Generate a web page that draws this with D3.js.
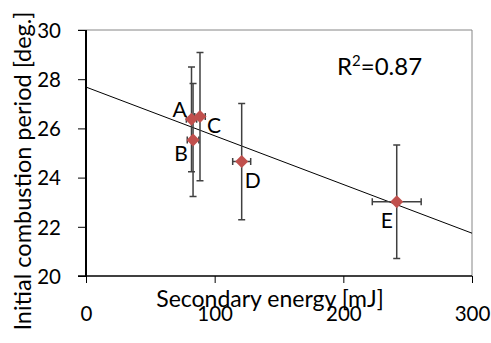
<!DOCTYPE html>
<html>
<head>
<meta charset="utf-8">
<script src="https://cdn.jsdelivr.net/npm/d3@7"></script>
<style>
  body { margin: 0; background: #fff; }
  text { font-family: Lato, "Open Sans", sans-serif; fill: #000; }
</style>
</head>
<body>
<script>
var names = ["A", "B", "C", "D", "E"];
var energy = [82, 83.2, 88.6, 121, 241.5];
var period = [26.37, 25.53, 26.48, 24.65, 23.02];
var energyErr = [4, 4.5, 4.1, 7, 19];
var periodErr = [2.13, 2.3, 2.61, 2.36, 2.31];
var xTicks = [0, 100, 200, 300];
var yTicks = [20, 22, 24, 26, 28, 30];
var trendIntercept = 27.68, trendSlope = -0.0198;
var r2 = "0.87";

var width = 491, height = 343;
var pLeft = 86, pRight = 472, pTop = 30, pBottom = 276;

// label offsets (px) from each point
var labelPos = { A: [-12, -10], B: [-12, 14], C: [14, 9], D: [11, 19], E: [-10, 19] };

var x = d3.scaleLinear().domain([0, 300]).range([pLeft, pRight]);
var y = d3.scaleLinear().domain([20, 30]).range([pBottom, pTop]);

var svg = d3.select("body").append("svg")
  .attr("width", width)
  .attr("height", height);

// plot frame (top / right in gray)
svg.append("path")
  .attr("d", "M" + (pLeft - 8) + "," + pTop + "H" + pRight + "V" + pBottom)
  .attr("fill", "none")
  .attr("stroke", "#868686")
  .attr("stroke-width", 1);

var yAxis = svg.append("g")
  .attr("transform", "translate(" + pLeft + ",0)")
  .call(d3.axisLeft(y).tickValues(yTicks).tickSize(8).tickPadding(17));
yAxis.select(".domain").attr("stroke", "#000").attr("stroke-width", 2).attr("d", "M0," + pBottom + "V" + pTop);
yAxis.selectAll(".tick line").attr("stroke", "#000").attr("stroke-width", 1);
yAxis.selectAll(".tick text").style("font-size", "20.5px").attr("dy", "0.36em");

var xAxis = svg.append("g")
  .attr("transform", "translate(0," + pBottom + ")")
  .call(d3.axisBottom(x).tickValues(xTicks).tickSize(7).tickPadding(23));
xAxis.select(".domain").attr("stroke", "#000").attr("stroke-width", 1.5).attr("d", "M" + (pLeft - 8) + ",0H" + pRight);
xAxis.selectAll(".tick line").attr("stroke", "#000").attr("stroke-width", 1);
xAxis.selectAll(".tick text").style("font-size", "20.5px");

// axis titles
svg.append("text")
  .attr("x", 270).attr("y", 307)
  .attr("text-anchor", "middle")
  .style("font-size", "23px")
  .text("Secondary energy [mJ]");

svg.append("text")
  .attr("transform", "translate(31,171) rotate(-90)")
  .attr("text-anchor", "middle")
  .style("font-size", "23.5px")
  .text("Initial combustion period [deg.]");

// trend line
svg.append("line")
  .attr("x1", x(0)).attr("y1", y(trendIntercept))
  .attr("x2", x(300)).attr("y2", y(trendIntercept + trendSlope * 300))
  .attr("stroke", "#000")
  .attr("stroke-width", 1);

var pts = names.map(function(n, i) {
  return { name: n, e: energy[i], p: period[i], ee: energyErr[i], pe: periodErr[i] };
});

var err = svg.append("g").attr("stroke", "#404040").attr("stroke-width", 1.5).attr("fill", "none");
var cap = 3.5;
pts.forEach(function(d) {
  var cx = x(d.e), cy = y(d.p);
  var y0 = y(d.p - d.pe), y1 = y(d.p + d.pe);
  var x0 = x(d.e - d.ee), x1 = x(d.e + d.ee);
  err.append("path").attr("d",
    "M" + cx + "," + y0 + "V" + y1 +
    "M" + (cx - cap) + "," + y0 + "H" + (cx + cap) +
    "M" + (cx - cap) + "," + y1 + "H" + (cx + cap) +
    "M" + x0 + "," + cy + "H" + x1 +
    "M" + x0 + "," + (cy - cap) + "V" + (cy + cap) +
    "M" + x1 + "," + (cy - cap) + "V" + (cy + cap));
});

svg.selectAll(".pt")
  .data(pts)
  .enter().append("path")
  .attr("class", "pt")
  .attr("transform", function(d) { return "translate(" + x(d.e) + "," + y(d.p) + ")"; })
  .attr("d", "M0,-6.5L6.5,0L0,6.5L-6.5,0Z")
  .attr("fill", "#C0504D");

svg.selectAll(".lbl")
  .data(pts)
  .enter().append("text")
  .attr("class", "lbl")
  .attr("x", function(d) { return x(d.e) + labelPos[d.name][0]; })
  .attr("y", function(d) { return y(d.p) + labelPos[d.name][1]; })
  .attr("text-anchor", "middle")
  .attr("dy", "0.35em")
  .style("font-size", "21px")
  .text(function(d) { return d.name; });

var rt = svg.append("text")
  .attr("x", 337).attr("y", 75)
  .style("font-size", "24px");
rt.append("tspan").text("R");
rt.append("tspan").attr("dy", -9).style("font-size", "15px").text("2");
rt.append("tspan").attr("dy", 9).text("=" + r2);
</script>
</body>
</html>
